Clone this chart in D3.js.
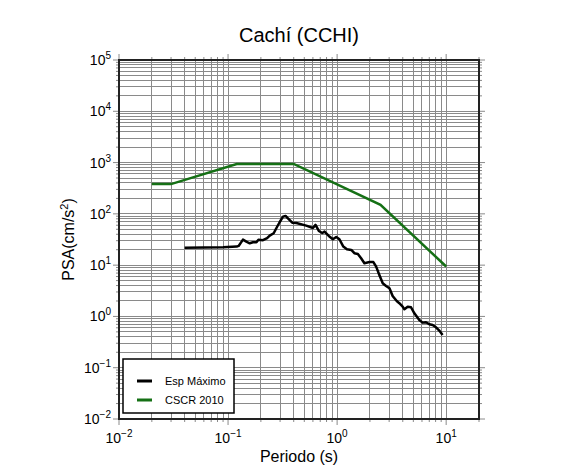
<!DOCTYPE html>
<html>
<head>
<meta charset="utf-8">
<script src="https://cdn.jsdelivr.net/npm/d3@7"></script>
<style>
  body { margin: 0; background: #fff; }
  text { font-family: "Liberation Sans", Arial, sans-serif; }
</style>
</head>
<body>
<div class="svg-container"></div>
<script>
// Esp Maximo (registro CCHI)
var espPeriod = [0.04, 0.09, 0.12, 0.125, 0.137, 0.147, 0.158, 0.169, 0.182, 0.19, 0.209, 0.228,
  0.241, 0.262, 0.277, 0.297, 0.319, 0.337, 0.354, 0.388, 0.423, 0.521, 0.6, 0.634, 0.68, 0.731,
  0.767, 0.839, 0.914, 0.982, 1.05, 1.14, 1.23, 1.35, 1.44, 1.55, 1.66, 1.78, 1.98, 2.15, 2.28,
  2.44, 2.62, 2.81, 3.02, 3.23, 3.52, 3.72, 3.99, 4.14, 4.44, 4.76, 5.11, 5.67, 6.08, 6.53, 7.0,
  7.51, 8.07, 8.65, 9.27];
var espPsa = [21.9, 22.3, 23, 23.7, 31.4, 28.7, 26.7, 27.9, 27.9, 31.4, 30.6, 33.5,
  37.6, 41.9, 52.4, 68.6, 88.2, 91, 82, 67.3, 66.5, 58.9, 53.1, 60.8, 46.4, 42.4,
  45, 37.1, 32, 35.5, 32, 23, 20.4, 19.8, 17.1, 16.5, 13.6, 10.9, 11.5, 11.5, 9.35,
  6.44, 4.44, 3.93, 3.55, 2.51, 2.0, 1.81, 1.55, 1.38, 1.55, 1.51, 1.15, 0.855, 0.757, 0.77, 0.705,
  0.68, 0.615, 0.529, 0.436];

// espectro de diseno CSCR 2010
var cscrPeriod = [0.02, 0.03, 0.12, 0.4, 2.5, 10];
var cscrPsa = [380, 380, 940, 940, 150, 9.4];

var xTicks = [0.01, 0.1, 1, 10];
var yTicks = [0.01, 0.1, 1, 10, 100, 1000, 10000, 100000];

var margin = { top: 60, right: 107, bottom: 56, left: 119 };
var drawWidth = 586, drawHeight = 475;
var width = drawWidth - margin.left - margin.right;
var height = drawHeight - margin.top - margin.bottom;

var svg = d3.select(".svg-container").append("svg")
  .attr("width", drawWidth)
  .attr("height", drawHeight);

var g = svg.append("g").attr("transform", "translate(" + margin.left + "," + margin.top + ")");

var x = d3.scaleLog().domain([0.01, 20]).range([0, width]);
var y = d3.scaleLog().domain([0.01, 100000]).range([height, 0]);

// minor values 1..9 per decade
function minors(lo, hi) {
  var out = [];
  for (var e = Math.floor(Math.log10(lo)); e <= Math.ceil(Math.log10(hi)); e++) {
    for (var k = 1; k < 10; k++) {
      var v = k * Math.pow(10, e);
      if (v >= lo * 0.9999 && v <= hi * 1.0001) out.push(v);
    }
  }
  return out;
}
var xMinor = minors(0.01, 20);
var yMinor = minors(0.01, 100000);

var gridColor = "#8a8a8a";

g.append("g").selectAll("line").data(xMinor).enter().append("line")
  .attr("x1", function(d) { return x(d); }).attr("x2", function(d) { return x(d); })
  .attr("y1", 0).attr("y2", height)
  .attr("stroke", gridColor).attr("stroke-width", 1).attr("shape-rendering", "crispEdges");

g.append("g").selectAll("line").data(yMinor).enter().append("line")
  .attr("y1", function(d) { return y(d); }).attr("y2", function(d) { return y(d); })
  .attr("x1", 0).attr("x2", width)
  .attr("stroke", gridColor).attr("stroke-width", 1).attr("shape-rendering", "crispEdges");

// outside ticks on all four sides
function isMajor(d) { return Math.abs(Math.log10(d) - Math.round(Math.log10(d))) < 1e-6; }
function tickLen(d) { return isMajor(d) ? 6 : 3; }

g.append("g").selectAll("line").data(xMinor).enter().append("line")
  .attr("x1", function(d) { return x(d); }).attr("x2", function(d) { return x(d); })
  .attr("y1", height).attr("y2", function(d) { return height + tickLen(d); })
  .attr("stroke", gridColor);
g.append("g").selectAll("line").data(xMinor).enter().append("line")
  .attr("x1", function(d) { return x(d); }).attr("x2", function(d) { return x(d); })
  .attr("y1", 0).attr("y2", function(d) { return -tickLen(d); })
  .attr("stroke", gridColor);
g.append("g").selectAll("line").data(yMinor).enter().append("line")
  .attr("y1", function(d) { return y(d); }).attr("y2", function(d) { return y(d); })
  .attr("x1", 0).attr("x2", function(d) { return -tickLen(d); })
  .attr("stroke", gridColor);
g.append("g").selectAll("line").data(yMinor).enter().append("line")
  .attr("y1", function(d) { return y(d); }).attr("y2", function(d) { return y(d); })
  .attr("x1", width).attr("x2", function(d) { return width + tickLen(d); })
  .attr("stroke", gridColor);

// frame
g.append("rect").attr("x", 0).attr("y", 0).attr("width", width).attr("height", height)
  .attr("fill", "none").attr("stroke", "#222").attr("stroke-width", 2);

// tick labels as 10^n
function expLabel(sel, d) {
  var e = Math.round(Math.log10(d));
  sel.append("tspan").text("10");
  sel.append("tspan").attr("dy", -6).attr("font-size", 10)
    .text(e < 0 ? "\u2212" + (-e) : e);
}

g.append("g").selectAll("text").data(xTicks).enter().append("text")
  .attr("x", function(d) { return x(d); }).attr("y", height + 24)
  .attr("text-anchor", "middle").attr("font-size", 14)
  .each(function(d) { expLabel(d3.select(this), d); });

g.append("g").selectAll("text").data(yTicks).enter().append("text")
  .attr("x", -8).attr("y", function(d) { return y(d) + 5; })
  .attr("text-anchor", "end").attr("font-size", 14)
  .each(function(d) { expLabel(d3.select(this), d); });

// series
var line = d3.line()
  .x(function(d) { return x(d[0]); })
  .y(function(d) { return y(d[1]); });

g.append("path")
  .attr("d", line(d3.zip(cscrPeriod, cscrPsa)))
  .attr("fill", "none").attr("stroke", "#157015").attr("stroke-width", 2.5);

g.append("path")
  .attr("d", line(d3.zip(espPeriod, espPsa)))
  .attr("fill", "none").attr("stroke", "#000").attr("stroke-width", 2.5)
  .attr("stroke-linejoin", "round");

// legend
var legend = g.append("g").attr("transform", "translate(4,299)");
legend.append("rect").attr("width", 111).attr("height", 54)
  .attr("fill", "#fff").attr("stroke", "#000").attr("stroke-width", 1.5);
var legItems = [["Esp M\u00e1ximo", "#000"], ["CSCR 2010", "#157015"]];
legend.selectAll("g.item").data(legItems).enter().append("g")
  .attr("class", "item")
  .attr("transform", function(d, i) { return "translate(0," + (22 + i * 19) + ")"; })
  .each(function(d) {
    var it = d3.select(this);
    it.append("line").attr("x1", 14).attr("x2", 29).attr("y1", 0).attr("y2", 0)
      .attr("stroke", d[1]).attr("stroke-width", 3);
    it.append("text").attr("x", 42).attr("y", 4).attr("font-size", 11).text(d[0]);
  });

// titles
svg.append("text").attr("x", margin.left + width / 2).attr("y", 42)
  .attr("text-anchor", "middle").attr("font-size", 20).text("Cach\u00ed (CCHI)");

svg.append("text").attr("x", margin.left + width / 2).attr("y", 462)
  .attr("text-anchor", "middle").attr("font-size", 16).text("Periodo (s)");

var yl = svg.append("text")
  .attr("transform", "translate(74," + (margin.top + height / 2) + ") rotate(-90)")
  .attr("text-anchor", "middle").attr("font-size", 16);
yl.append("tspan").text("PSA(cm/s");
yl.append("tspan").attr("dy", -6).attr("font-size", 11).text("2");
yl.append("tspan").attr("dy", 6).text(")");
</script>
</body>
</html>
